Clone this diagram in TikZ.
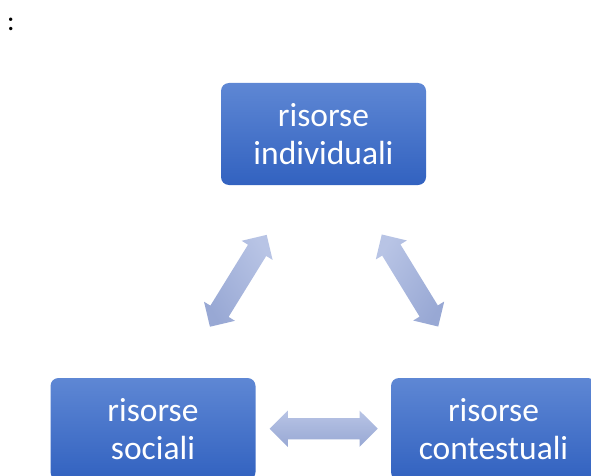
\documentclass[tikz,border=0pt]{standalone}
\usepackage{fontspec}
\setmainfont{Carlito}
\usetikzlibrary{shapes.arrows}
\definecolor{boxtop}{RGB}{94,135,212}
\definecolor{boxbot}{RGB}{50,98,192}
\definecolor{arrtop}{RGB}{184,196,229}
\definecolor{arrbot}{RGB}{152,168,212}
\begin{document}
\begin{tikzpicture}[x=1pt,y=1pt,
  resbox/.style={rectangle, rounded corners=8pt, minimum width=205pt,
    minimum height=102pt, top color=boxtop, bottom color=boxbot,
    text=white, font=\fontsize{33.5}{38.5}\selectfont, align=center, inner sep=0pt},
  link/.style={double arrow, double arrow head extend=7.5pt,
    minimum height=108pt, inner xsep=0pt, inner ysep=10.5pt,
    top color=arrtop, bottom color=arrbot}]
\useasboundingbox (0,0) rectangle (591,475);
\clip (0,0) rectangle (591,475);

% leading punctuation
\node[anchor=base west, font=\fontsize{28}{32}\selectfont, inner sep=0pt] (colon) at (7,444) {:};

% the three resource boxes
\node[resbox] (ind) at (323.5,341) {risorse\\individuali};
\node[resbox] (soc) at (153,46) {risorse\\sociali};
\node[resbox] (con) at (493.5,46) {risorse\\contestuali};

% two-headed arrows between them
\node[link, rotate=58.3, shading angle=-58.3] (indsoc) at (238.3,194.2) {};
\node[link, rotate=-58.5, shading angle=58.5] (indcon) at (410,194.5) {};
\node[link] (soccon) at (323.7,46.3) {};
\end{tikzpicture}
\end{document}
